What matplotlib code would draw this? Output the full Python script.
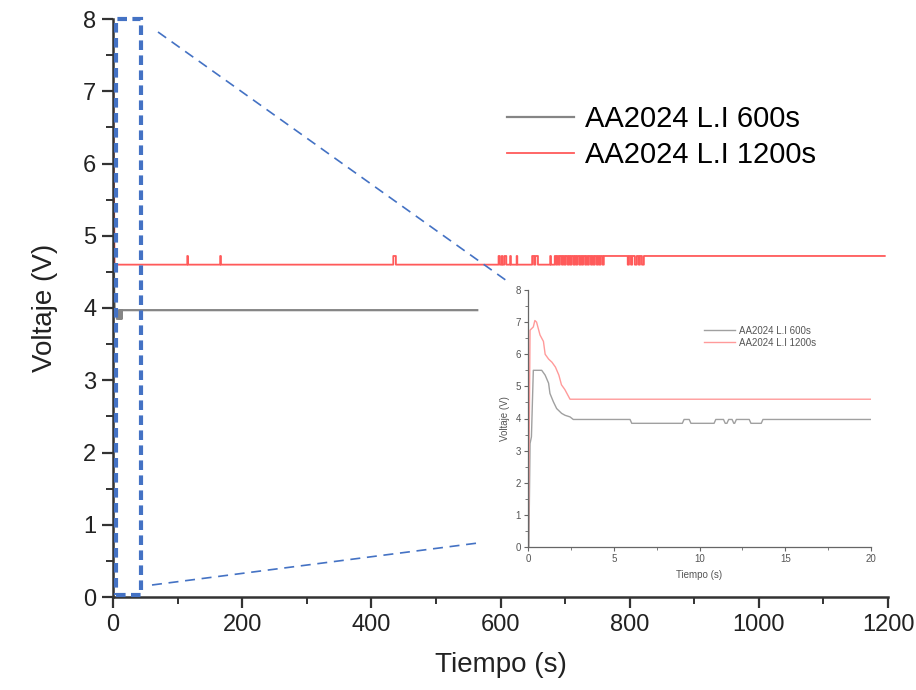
import matplotlib
matplotlib.use("Agg")
import matplotlib.pyplot as plt
from matplotlib.patches import Rectangle
from matplotlib.lines import Line2D
from matplotlib.ticker import MultipleLocator

plt.rcParams['font.family'] = ['Liberation Sans', 'DejaVu Sans']

# --- data ---
labels = ['AA2024 L.I 600s', 'AA2024 L.I 1200s']

# 600 s sample (gray)
gray_t = [0, 0.05, 0.12, 0.2, 0.31, 0.8, 1.0, 1.2, 1.28, 1.48, 1.67, 1.96, 2.16, 2.45, 2.64,
          5.95, 6.05, 9.0, 9.1, 9.4, 9.5, 10.85, 10.95, 11.4, 11.5, 11.6, 11.7, 11.9, 12.0,
          12.05, 12.15, 12.9, 13.0, 13.6, 13.7, 564]
gray_v = [0, 0, 3.22, 3.43, 5.5, 5.5, 5.35, 5.1, 4.78, 4.52, 4.31, 4.16, 4.1, 4.05, 3.97,
          3.97, 3.85, 3.85, 3.97, 3.97, 3.85, 3.85, 3.97, 3.97, 3.85, 3.85, 3.97, 3.97, 3.85,
          3.85, 3.97, 3.97, 3.85, 3.85, 3.97, 3.97]

# 1200 s sample (red), first 20 s
red_t = [0, 0.02, 0.12, 0.31, 0.4, 0.5, 0.6, 0.7, 0.9, 1.0, 1.2, 1.4, 1.6, 1.8, 1.95,
         2.15, 2.35, 2.45, 20]
red_v = [0, 0, 6.75, 6.85, 7.05, 7.0, 6.8, 6.6, 6.4, 6.0, 5.85, 5.75, 5.6, 5.35, 5.05,
         4.9, 4.7, 4.6, 4.6]
# after 20 s the red signal jumps between two levels; times where it toggles
red_levels = [4.6, 4.72]
red_toggle_t = [115, 116, 166, 167, 434, 438, 597, 599, 602, 603, 606, 609, 615, 616,
                625, 626, 649, 652, 654, 658, 677, 678, 684, 686, 688, 690, 692, 695,
                697, 699, 701, 704, 706, 708, 710, 713, 715, 717, 719, 722, 724, 726,
                728, 731, 733, 735, 737, 740, 742, 744, 746, 749, 751, 753, 755, 758,
                760, 797, 799, 802, 804, 808, 811, 814, 816, 819, 822]
red_end_t = 1195

# build the step path of the red tail
tail_t = [red_t[-1]]
tail_v = [red_levels[0]]
lvl = 0
for t in red_toggle_t:
    tail_t += [t, t]
    tail_v += [red_levels[lvl], red_levels[1 - lvl]]
    lvl = 1 - lvl
tail_t.append(red_end_t)
tail_v.append(red_levels[lvl])
red_full_t = red_t + tail_t
red_full_v = red_v + tail_v

c_gray = '#858585'
c_red = '#ff5a5a'
c_blue = '#4472C4'

fig = plt.figure(figsize=(9.16, 6.9), dpi=100)
ax = fig.add_axes([113/916, 1 - 597/690, 775/916, 578/690])

ax.plot(gray_t, gray_v, color=c_gray, lw=1.6, label=labels[0])
ax.plot(red_full_t, red_full_v, color=c_red, lw=1.3, label=labels[1])

ax.set_xlim(0, 1200)
ax.set_ylim(0, 8)
ax.xaxis.set_major_locator(MultipleLocator(200))
ax.xaxis.set_minor_locator(MultipleLocator(100))
ax.yaxis.set_major_locator(MultipleLocator(1))
ax.yaxis.set_minor_locator(MultipleLocator(0.5))
for s in ['top', 'right']:
    ax.spines[s].set_visible(False)
for s in ['left', 'bottom']:
    ax.spines[s].set_color('#333333')
    ax.spines[s].set_linewidth(1.8)
ax.tick_params(which='major', direction='out', length=8, width=1.6, color='#333333',
               labelsize=17, labelcolor='#222222', pad=4)
ax.tick_params(which='minor', direction='out', length=5, width=1.4, color='#333333')
ax.set_xlabel('Tiempo (s)', fontsize=20, color='#222222', labelpad=12)
ax.set_ylabel('Voltaje (V)', fontsize=20, color='#222222', labelpad=18)

ax.legend(loc='upper left', bbox_to_anchor=(0.489, 0.876), frameon=False, fontsize=21,
          handlelength=2.3, handletextpad=0.4, labelspacing=0.28, borderpad=0)

# zoom box on the first seconds
ax.add_patch(Rectangle((4, 0.03), 40, 7.97, fill=False, edgecolor=c_blue, lw=3,
                       linestyle=(0, (2.3, 1.3)), clip_on=False, zorder=5))

# inset with the first 20 s
ins = fig.add_axes([528/916, 1 - 547/690, 343/916, 257/690])
ins.plot(gray_t, gray_v, color='#a0a0a0', lw=1.0, label=labels[0])
ins.plot(red_t, red_v, color='#ff9a9a', lw=1.0, label=labels[1])
ins.set_xlim(0, 20)
ins.set_ylim(0, 8)
ins.xaxis.set_major_locator(MultipleLocator(5))
ins.xaxis.set_minor_locator(MultipleLocator(2.5))
ins.yaxis.set_major_locator(MultipleLocator(1))
ins.yaxis.set_minor_locator(MultipleLocator(0.5))
for s in ['top', 'right']:
    ins.spines[s].set_visible(False)
for s in ['left', 'bottom']:
    ins.spines[s].set_color('#666666')
    ins.spines[s].set_linewidth(0.9)
ins.tick_params(which='major', direction='out', length=3, width=0.8, color='#666666',
                labelsize=7, labelcolor='#555555', pad=2)
ins.tick_params(which='minor', direction='out', length=2, width=0.6, color='#666666')
ins.set_xlabel('Tiempo (s)', fontsize=7, color='#555555', labelpad=4)
ins.set_ylabel('Voltaje (V)', fontsize=7, color='#555555', labelpad=4)
ins.legend(loc='upper left', bbox_to_anchor=(0.5, 0.88), frameon=False, fontsize=7,
           handlelength=3.2, handletextpad=0.4, labelspacing=0.2, borderpad=0,
           labelcolor='#555555')

# dashed connector lines from the box to the inset
fig.add_artist(Line2D([158/916, 507/916], [1 - 32/690, 1 - 281/690], color=c_blue,
                      lw=1.2, linestyle=(0, (6, 4))))
fig.add_artist(Line2D([152/916, 478/916], [1 - 585/690, 1 - 543/690], color=c_blue,
                      lw=1.2, linestyle=(0, (6, 4))))

fig.savefig('out.png', dpi=100)
